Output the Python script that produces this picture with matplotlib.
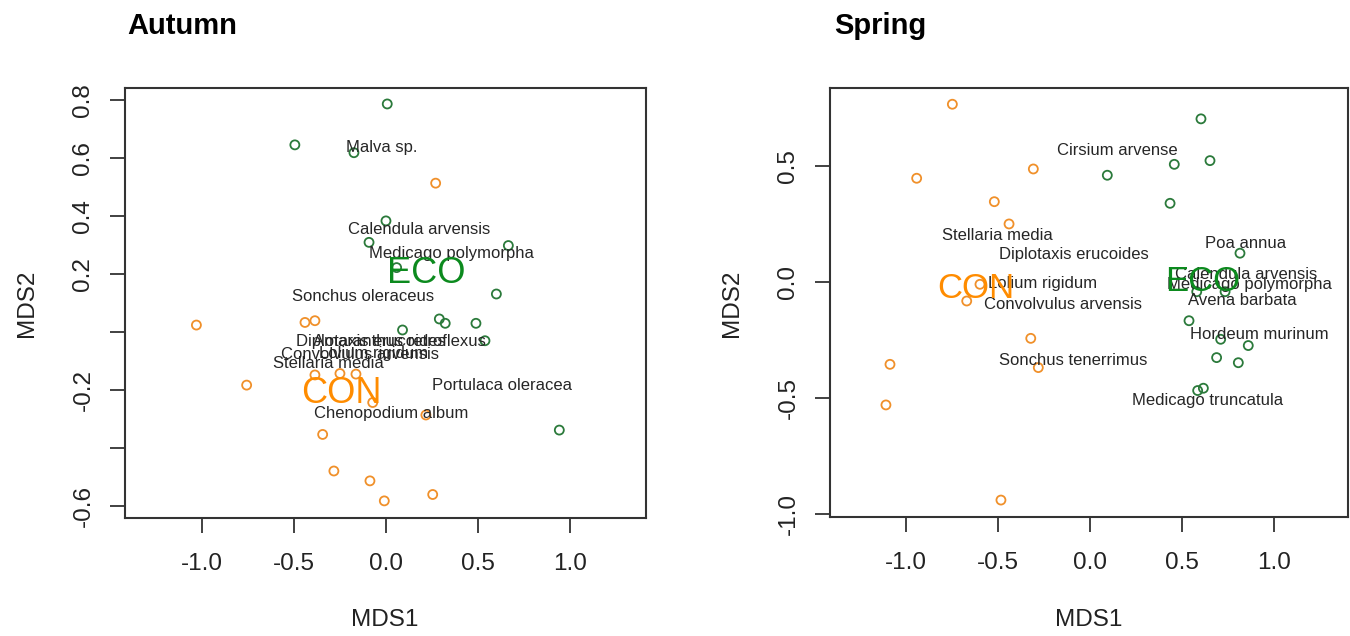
import matplotlib
matplotlib.use("Agg")
import matplotlib.pyplot as plt

plt.rcParams['font.family'] = ['Liberation Sans', 'DejaVu Sans']

# ---------------- Autumn data ----------------
aut_con_x = [0.27, -1.03, -0.44, -0.386, -0.386, -0.25, -0.163, -0.757, -0.072,
             0.217, -0.344, -0.283, -0.087, -0.009, 0.254]
aut_con_y = [0.513, 0.024, 0.033, 0.039, -0.148, -0.143, -0.145, -0.183, -0.243,
             -0.286, -0.353, -0.479, -0.513, -0.582, -0.56]
aut_eco_x = [0.007, -0.495, -0.174, 0.0, -0.092, 0.665, 0.058, 0.60, 0.09, 0.29,
             0.322, 0.489, 0.538, 0.942]
aut_eco_y = [0.786, 0.645, 0.618, 0.383, 0.309, 0.298, 0.222, 0.131, 0.007, 0.045,
             0.030, 0.030, -0.030, -0.338]
aut_species = ["Malva sp.", "Calendula arvensis", "Medicago polymorpha",
               "Sonchus oleraceus", "Diplotaxis erucoides", "Amaranthus retroflexus",
               "Convolvulus arvensis", "Lolium rigidum", "Stellaria media",
               "Portulaca oleracea", "Chenopodium album"]
aut_sp_x = [-0.022, 0.181, 0.355, -0.125, -0.08, 0.072, -0.14, -0.07, -0.313, 0.633, 0.031]
aut_sp_y = [0.636, 0.352, 0.271, 0.122, -0.033, -0.033, -0.079, -0.075, -0.110, -0.183, -0.28]
aut_groups = ["ECO", "CON"]
aut_grp_x = [0.217, -0.24]
aut_grp_y = [0.20, -0.211]
aut_xticks = [-1.0, -0.5, 0.0, 0.5, 1.0]
aut_yticks = [0.8, 0.6, 0.4, 0.2, 0.0, -0.2, -0.4, -0.6]
aut_yticklabels = ["0.8", "0.6", "0.4", "0.2", "", "-0.2", "", "-0.6"]

# ---------------- Spring data ----------------
spr_con_x = [-0.748, -0.308, -0.942, -0.52, -0.44, -0.598, -0.67, -0.322, -1.087,
             -0.281, -1.109, -0.484]
spr_con_y = [0.766, 0.487, 0.447, 0.346, 0.25, -0.01, -0.082, -0.243, -0.355,
             -0.369, -0.53, -0.94]
spr_eco_x = [0.603, 0.458, 0.652, 0.094, 0.435, 0.815, 0.58, 0.734, 0.538, 0.71,
             0.86, 0.688, 0.806, 0.585, 0.616]
spr_eco_y = [0.703, 0.507, 0.523, 0.46, 0.339, 0.124, -0.042, -0.042, -0.167,
             -0.247, -0.274, -0.326, -0.348, -0.468, -0.458]
spr_species = ["Cirsium arvense", "Stellaria media", "Diplotaxis erucoides",
               "Poa annua", "Calendula arvensis", "Medicago polymorpha",
               "Avena barbata", "Hordeum murinum", "Medicago truncatula",
               "Lolium rigidum", "Convolvulus arvensis", "Sonchus tenerrimus"]
spr_sp_x = [0.149, -0.501, -0.086, 0.845, 0.847, 0.865, 0.83, 0.92, 0.641, -0.258, -0.148, -0.092]
spr_sp_y = [0.565, 0.20, 0.119, 0.167, 0.033, -0.013, -0.082, -0.228, -0.509, -0.006, -0.099, -0.34]
spr_groups = ["ECO", "CON"]
spr_grp_x = [0.61, -0.62]
spr_grp_y = [0.0, -0.03]
spr_xticks = [-1.0, -0.5, 0.0, 0.5, 1.0]
spr_yticks = [0.5, 0.0, -0.5, -1.0]
spr_yticklabels = ["0.5", "0.0", "-0.5", "-1.0"]

ECO_PT = "#2b7a3b"
CON_PT = "#f0902a"
ECO_TXT = "#0c8a1e"
CON_TXT = "#ff8c00"
TXT = "#262626"

W, H = 1350, 636
fig = plt.figure(figsize=(W / 100, H / 100), dpi=100)


def px_axes(l, r, t, b):
    return fig.add_axes([l / W, 1 - b / H, (r - l) / W, (b - t) / H])


def draw(ax, con_x, con_y, eco_x, eco_y, sp, sp_x, sp_y, grp, grp_x, grp_y,
         xticks, yticks, yticklabels, xlim, ylim, grp_fs):
    ax.scatter(con_x, con_y, s=42, facecolors="none", edgecolors=CON_PT, linewidths=1.3, zorder=3)
    ax.scatter(eco_x, eco_y, s=42, facecolors="none", edgecolors=ECO_PT, linewidths=1.3, zorder=3)
    for name, x, y in zip(sp, sp_x, sp_y):
        ax.text(x, y, name, ha="center", va="center", fontsize=12, color=TXT, zorder=4)
    for g, x, y in zip(grp, grp_x, grp_y):
        ax.text(x, y, g, ha="center", va="center", fontsize=grp_fs,
                color=ECO_TXT if g == "ECO" else CON_TXT, zorder=5)
    ax.set_xlim(*xlim)
    ax.set_ylim(*ylim)
    ax.set_xticks(xticks)
    ax.set_xticklabels([f"{v:.1f}" for v in xticks])
    ax.set_yticks(yticks)
    ax.set_yticklabels(yticklabels, rotation=90, va="center")
    ax.tick_params(axis="both", length=11, width=1.3, color="#333333",
                   labelsize=17.5, labelcolor="#222222")
    ax.tick_params(axis="x", pad=14)
    ax.tick_params(axis="y", pad=11)
    for s in ax.spines.values():
        s.set_linewidth(1.5)
        s.set_color("#333333")


ax1 = px_axes(125, 646, 88, 518)
draw(ax1, aut_con_x, aut_con_y, aut_eco_x, aut_eco_y, aut_species, aut_sp_x, aut_sp_y,
     aut_groups, aut_grp_x, aut_grp_y, aut_xticks, aut_yticks, aut_yticklabels,
     (-1.418, 1.413), (-0.641, 0.841), 26)

ax2 = px_axes(830, 1348, 88, 517)
draw(ax2, spr_con_x, spr_con_y, spr_eco_x, spr_eco_y, spr_species, spr_sp_x, spr_sp_y,
     spr_groups, spr_grp_x, spr_grp_y, spr_xticks, spr_yticks, spr_yticklabels,
     (-1.413, 1.402), (-1.013, 0.836), 25)

# titles and axis labels placed in pixel coordinates
fig.text(127 / W, 1 - 26 / H, "Autumn", fontsize=21, fontweight="bold", ha="left", va="center")
fig.text(834 / W, 1 - 26 / H, "Spring", fontsize=21, fontweight="bold", ha="left", va="center")
fig.text(27 / W, 1 - 303 / H, "MDS2", fontsize=17.5, rotation=90, ha="center", va="center", color="#222222")
fig.text(732 / W, 1 - 303 / H, "MDS2", fontsize=17.5, rotation=90, ha="center", va="center", color="#222222")
fig.text(385 / W, 1 - 620 / H, "MDS1", fontsize=17.5, ha="center", va="center", color="#222222")
fig.text(1089 / W, 1 - 620 / H, "MDS1", fontsize=17.5, ha="center", va="center", color="#222222")

fig.savefig("out.png", dpi=100)
